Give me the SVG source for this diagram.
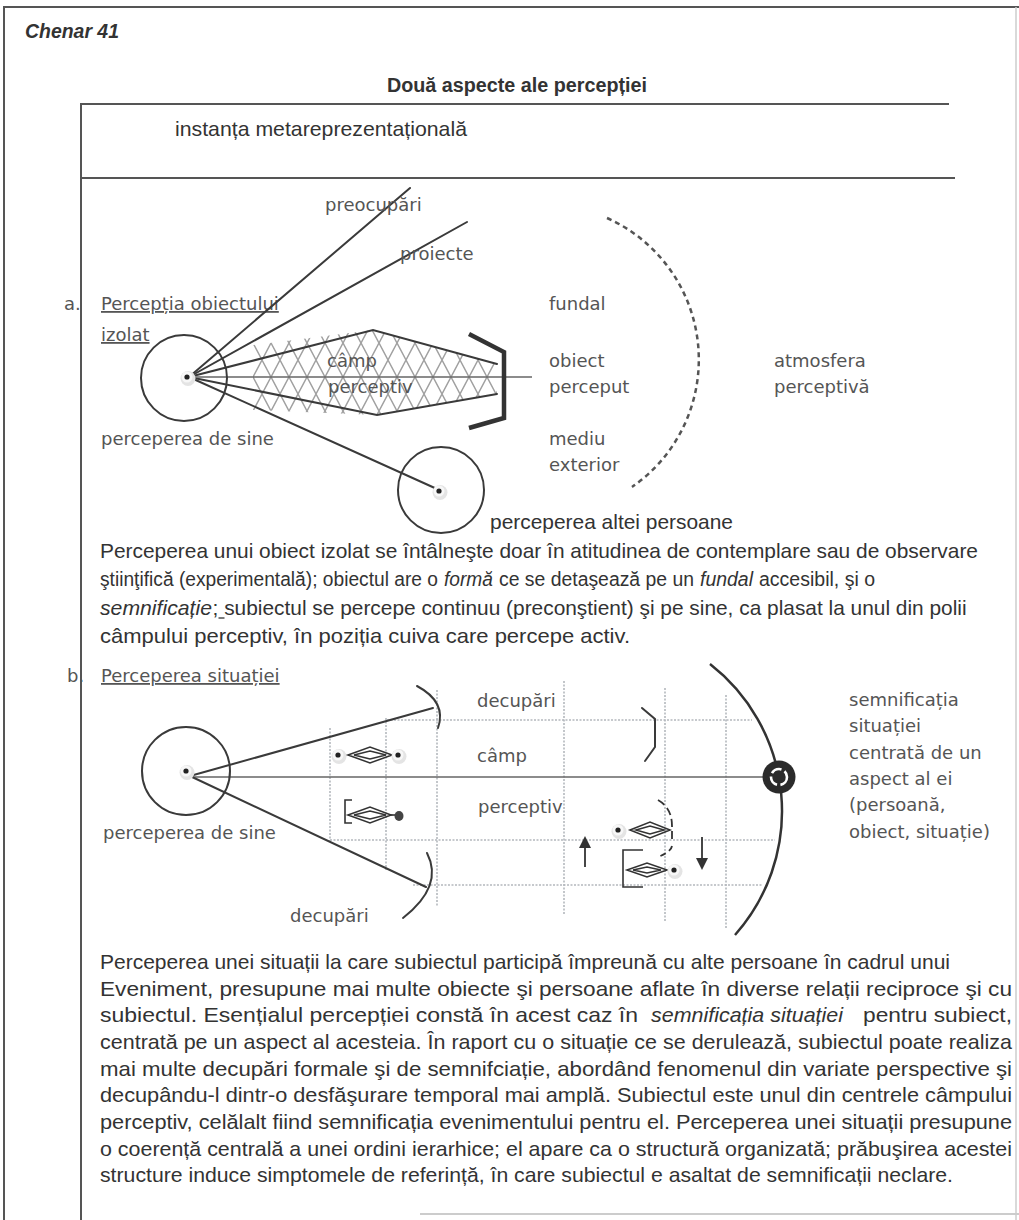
<svg xmlns="http://www.w3.org/2000/svg" width="1019" height="1220" viewBox="0 0 1019 1220">
  <style>
    .frame { stroke: #555; stroke-width: 2; fill: none; }
    .ln { stroke: #3a3a3a; stroke-width: 2; fill: none; stroke-linecap: round; }
    .thin { stroke: #666; stroke-width: 1.6; fill: none; }
    .grid { stroke: #b4b8bd; stroke-width: 1.6; fill: none; stroke-dasharray: 2 1.5; }
    .lbl { font-family: "DejaVu Sans", Verdana, sans-serif; font-size: 18px; fill: #555; }
    .body { font-family: "Liberation Sans", Arial, sans-serif; font-size: 21px; fill: #333; }
    .body.sm { font-size: 19.5px; }
    .ital { font-style: italic; }
    .under { text-decoration: underline; }
    .icon { fill: none; stroke: #333; stroke-width: 1.6; }
  </style>
  <defs>
    <pattern id="hatch" patternUnits="userSpaceOnUse" width="18" height="34" x="253" y="343">
      <path d="M0,0 L18,34 M18,0 L0,34" stroke="#a0a0a0" stroke-width="1.5" fill="none"/>
    </pattern>
    <clipPath id="lensClip">
      <polygon points="253,345 373,330 497,364 497,394 377,415 253,410"/>
    </clipPath>
    <g id="person">
      <circle cx="1" cy="1.5" r="7.5" fill="#e4e4e4"/>
      <circle cx="0" cy="0" r="5.5" fill="#f7f7f7"/>
      <circle cx="0" cy="0" r="2.6" fill="#222"/>
    </g>
  </defs>

  <rect width="1019" height="1220" fill="#fff"/>

  <!-- outer frame -->
  <g id="outer-frame">
    <path class="frame" d="M4,1220 L4,7 L1019,7"/>
    <path d="M1016,7 L1016,1220" stroke="#ccc" stroke-width="1.5"/>
    <path d="M420,1214 L1019,1214" stroke="#ccc" stroke-width="2"/>
  </g>

  <g id="header">
    <text x="25" y="38" font-family="Liberation Sans, Arial, sans-serif" font-size="20" font-style="italic" font-weight="bold" fill="#333" textLength="94" lengthAdjust="spacingAndGlyphs">Chenar 41</text>
    <text x="387" y="92" font-family="Liberation Sans, Arial, sans-serif" font-size="20" font-weight="bold" fill="#333" textLength="260" lengthAdjust="spacingAndGlyphs">Două aspecte ale percepției</text>
  </g>

  <!-- inner frame with the meta-representational band -->
  <g id="meta-band">
    <path class="frame" d="M80,104 L949,104"/>
    <path class="frame" d="M80,178 L955,178"/>
    <path class="frame" d="M81,104 L81,1220"/>
    <text class="body" x="175" y="136" textLength="292" lengthAdjust="spacingAndGlyphs">instanța metareprezentațională</text>
  </g>

  <!-- a. perception of the isolated object -->
  <g id="part-a">
    <text class="lbl" x="64" y="310">a.</text>
    <text class="lbl under" x="101" y="310">Percepția obiectului</text>
    <text class="lbl under" x="101" y="341">izolat</text>

    <g id="field-a">
      <rect x="253" y="325" width="250" height="95" fill="url(#hatch)" clip-path="url(#lensClip)"/>
    </g>

    <g id="connectors-a">
      <line class="ln" x1="189" y1="377" x2="410" y2="188"/>
      <line class="ln" x1="189" y1="377" x2="467" y2="222"/>
      <polyline class="ln" points="189,377 373,330 497,364"/>
      <polyline class="ln" points="189,377 377,415 497,394"/>
      <line class="thin" x1="189" y1="377" x2="532" y2="377"/>
      <line class="ln" x1="189" y1="377" x2="437" y2="489"/>
      <polyline points="469,334 504,352 504,418 469,428" fill="none" stroke="#333" stroke-width="4.5"/>
      <path d="M607,218 A155,155 0 0 1 632,487" fill="none" stroke="#555" stroke-width="2.5" stroke-dasharray="5 4"/>
    </g>

    <g id="self-a">
      <circle class="ln" cx="184" cy="378" r="43"/>
      <use href="#person" x="187" y="377"/>
    </g>
    <g id="other-a">
      <circle class="ln" cx="441" cy="490" r="43"/>
      <use href="#person" x="439" y="491"/>
    </g>

    <text class="lbl" x="325" y="211">preocupări</text>
    <text class="lbl" x="400" y="260">proiecte</text>
    <text class="lbl" x="327" y="367">câmp</text>
    <text class="lbl" x="328" y="393">perceptiv</text>
    <text class="lbl" x="101" y="445">perceperea de sine</text>
    <text class="lbl" x="549" y="310">fundal</text>
    <text class="lbl" x="549" y="367">obiect</text>
    <text class="lbl" x="549" y="393">perceput</text>
    <text class="lbl" x="549" y="445">mediu</text>
    <text class="lbl" x="549" y="471">exterior</text>
    <text class="lbl" x="774" y="367">atmosfera</text>
    <text class="lbl" x="774" y="393">perceptivă</text>
    <text class="body" x="490" y="529" textLength="243" lengthAdjust="spacingAndGlyphs">perceperea altei persoane</text>
  </g>

  <g id="text-a">
    <text class="body" x="100" y="558" textLength="878" lengthAdjust="spacingAndGlyphs">Perceperea unui obiect izolat se întâlneşte doar în atitudinea de contemplare sau de observare</text>
    <text class="body sm" x="100" y="586" textLength="338" lengthAdjust="spacingAndGlyphs">ştiinţifică (experimentală); obiectul are o</text>
    <text class="body sm ital" x="444" y="586" textLength="49" lengthAdjust="spacingAndGlyphs">formă</text>
    <text class="body sm" x="499" y="586" textLength="195" lengthAdjust="spacingAndGlyphs">ce se detaşează pe un</text>
    <text class="body sm ital" x="700" y="586" textLength="53" lengthAdjust="spacingAndGlyphs">fundal</text>
    <text class="body sm" x="759" y="586" textLength="116" lengthAdjust="spacingAndGlyphs">accesibil, şi o</text>
    <text class="body ital" x="100" y="615" textLength="112" lengthAdjust="spacingAndGlyphs">semnificație</text>
    <text class="body" x="212.6" y="615" textLength="754" lengthAdjust="spacingAndGlyphs">; subiectul se percepe continuu (preconştient) şi pe sine, ca plasat la unul din polii</text>
    <line x1="218.5" y1="618" x2="224.5" y2="618" stroke="#333" stroke-width="1.3"/>
    <text class="body" x="100" y="643" textLength="530" lengthAdjust="spacingAndGlyphs">câmpului perceptiv, în poziția cuiva care percepe activ.</text>
  </g>

  <!-- b. perception of the situation -->
  <g id="part-b">
    <text class="lbl" x="67" y="682">b.</text>
    <text class="lbl under" x="101" y="682">Perceperea situației</text>

    <g id="grid-b">
      <line class="grid" x1="330" y1="728" x2="330" y2="842"/>
      <line class="grid" x1="386" y1="718" x2="386" y2="870"/>
      <line class="grid" x1="437" y1="690" x2="437" y2="907"/>
      <line class="grid" x1="564" y1="681" x2="564" y2="915"/>
      <line class="grid" x1="665" y1="688" x2="665" y2="922"/>
      <line class="grid" x1="726" y1="695" x2="726" y2="929"/>
      <line class="grid" x1="387" y1="720" x2="752" y2="720"/>
      <line class="grid" x1="330" y1="840" x2="775" y2="840"/>
      <line class="grid" x1="413" y1="885" x2="762" y2="885"/>
    </g>

    <g id="connectors-b">
      <line class="ln" x1="190" y1="776" x2="433" y2="708"/>
      <line class="thin" x1="190" y1="777" x2="765" y2="777"/>
      <line class="ln" x1="190" y1="776" x2="426" y2="887"/>
      <path class="ln" d="M417,686 Q447,702 438,728"/>
      <path class="ln" d="M427,853 Q444,886 403,918"/>
      <path d="M710,664 A186.5,186.5 0 0 1 735,935" fill="none" stroke="#333" stroke-width="2.5"/>
      <polyline class="ln" points="642,708 655,719 655,747 645,761"/>
    </g>

    <g id="self-b">
      <circle class="ln" cx="186" cy="771" r="44"/>
      <use href="#person" x="186" y="771"/>
    </g>

    <g id="meaning-marker">
      <circle cx="779" cy="777" r="16.5" fill="#2b2b2b"/>
      <circle cx="779" cy="777" r="8" fill="none" stroke="#fff" stroke-width="2.6" stroke-dasharray="11 3.5"/>
    </g>

    <g id="pair-top">
      <use href="#person" x="338" y="755"/>
      <polygon class="icon" points="348,755 370,747 392,755 370,763"/>
      <polygon class="icon" points="354,755 370,751 386,755 370,759" stroke-width="1.3"/>
      <use href="#person" x="398" y="755"/>
    </g>

    <g id="pair-bottom">
      <path class="icon" d="M352,800 L345,800 L345,823 L352,823"/>
      <polygon class="icon" points="348,815 370,807 391,815 370,823"/>
      <polygon class="icon" points="354,815 370,811 386,815 370,819" stroke-width="1.3"/>
      <line class="icon" x1="391" y1="815" x2="397" y2="815"/>
      <ellipse cx="399" cy="816" rx="4.5" ry="5" fill="#444"/>
    </g>

    <g id="pair-right-top">
      <use href="#person" x="618" y="830"/>
      <polygon class="icon" points="630,830 650,822 670,830 650,838"/>
      <polygon class="icon" points="636,830 650,826 664,830 650,834" stroke-width="1.3"/>
      <path d="M658,800 Q672,808 672,826 L672,842" fill="none" stroke="#333" stroke-width="1.8" stroke-dasharray="8 4"/>
      <path d="M672,846 Q671,852 658,857" fill="none" stroke="#333" stroke-width="1.8" stroke-dasharray="6 4"/>
    </g>

    <g id="pair-right-bottom">
      <path class="icon" d="M643,850 L623,850 L623,887 L643,887"/>
      <polygon class="icon" points="627,870 647,863 667,870 647,877"/>
      <polygon class="icon" points="633,870 647,867 661,870 647,873" stroke-width="1.3"/>
      <use href="#person" x="674" y="870"/>
    </g>

    <g id="arrows-b">
      <line x1="585" y1="867" x2="585" y2="846" stroke="#333" stroke-width="1.8"/>
      <path d="M579,848 L585,836 L591,848 Z" fill="#333"/>
      <line x1="702" y1="837" x2="702" y2="860" stroke="#333" stroke-width="1.8"/>
      <path d="M696,858 L702,870 L708,858 Z" fill="#333"/>
    </g>

    <text class="lbl" x="477" y="707">decupări</text>
    <text class="lbl" x="477" y="762">câmp</text>
    <text class="lbl" x="478" y="813">perceptiv</text>
    <text class="lbl" x="103" y="839">perceperea de sine</text>
    <text class="lbl" x="290" y="922">decupări</text>
    <text class="lbl" x="849" y="706">semnificația</text>
    <text class="lbl" x="849" y="732">situației</text>
    <text class="lbl" x="849" y="759">centrată de un</text>
    <text class="lbl" x="849" y="785">aspect al ei</text>
    <text class="lbl" x="849" y="811">(persoană,</text>
    <text class="lbl" x="849" y="838">obiect, situație)</text>
  </g>

  <g id="text-b">
    <text class="body" x="100" y="969" textLength="850" lengthAdjust="spacingAndGlyphs">Perceperea unei situații la care subiectul participă împreună cu alte persoane în cadrul unui</text>
    <text class="body" x="100" y="996" textLength="912" lengthAdjust="spacingAndGlyphs">Eveniment, presupune mai multe obiecte şi persoane aflate în diverse relații reciproce şi cu</text>
    <text class="body" x="100" y="1022" textLength="538" lengthAdjust="spacingAndGlyphs">subiectul. Esențialul percepției constă în acest caz în</text>
    <text class="body ital" x="651" y="1022" textLength="192" lengthAdjust="spacingAndGlyphs">semnificația situației</text>
    <text class="body" x="863" y="1022" textLength="149" lengthAdjust="spacingAndGlyphs">pentru subiect,</text>
    <text class="body" x="100" y="1049" textLength="912" lengthAdjust="spacingAndGlyphs">centrată pe un aspect al acesteia. În raport cu o situație ce se derulează, subiectul poate realiza</text>
    <text class="body" x="100" y="1076" textLength="912" lengthAdjust="spacingAndGlyphs">mai multe decupări formale şi de semnifciație, abordând fenomenul din variate perspective şi</text>
    <text class="body" x="100" y="1102" textLength="912" lengthAdjust="spacingAndGlyphs">decupându-l dintr-o desfăşurare temporal mai amplă. Subiectul este unul din centrele câmpului</text>
    <text class="body" x="100" y="1129" textLength="912" lengthAdjust="spacingAndGlyphs">perceptiv, celălalt fiind semnificația evenimentului pentru el. Perceperea unei situații presupune</text>
    <text class="body" x="100" y="1156" textLength="912" lengthAdjust="spacingAndGlyphs">o coerență centrală a unei ordini ierarhice; el apare ca o structură organizată; prăbuşirea acestei</text>
    <text class="body" x="100" y="1182" textLength="853" lengthAdjust="spacingAndGlyphs">structure induce simptomele de referință, în care subiectul e asaltat de semnificații neclare.</text>
  </g>
</svg>
